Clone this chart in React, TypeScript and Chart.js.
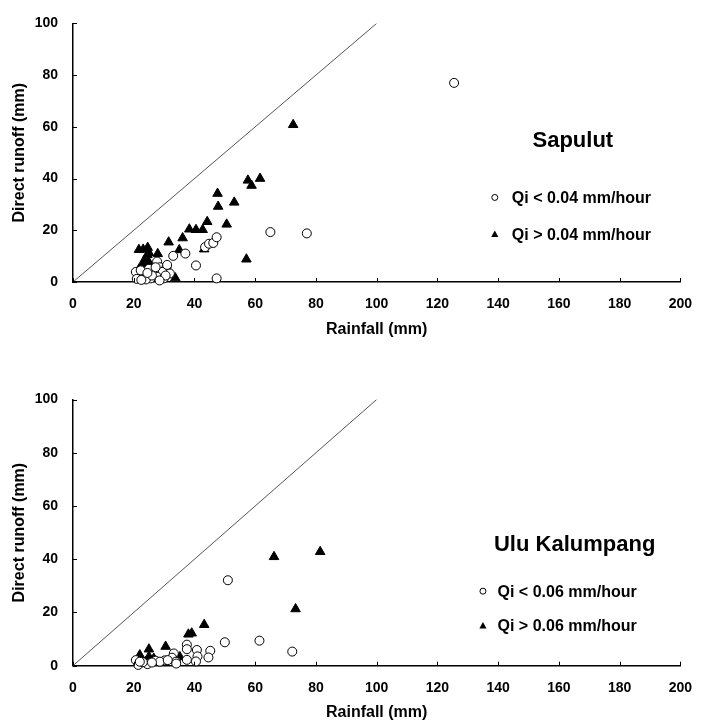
import React, { useEffect, useRef } from "react";
import { Chart, registerables } from "chart.js";

Chart.register(...registerables);

const FONT = "'Liberation Sans', Arial, Helvetica, sans-serif";

// Axis settings
const xMin = 0;
const xMax = 200;
const xStep = 20;
const yMin = 0;
const yMax = 100;
const yStep = 20;

const xTitle = "Rainfall (mm)";
const yTitle = "Direct runoff (mm)";

// 1:1 line
const equalityLine: [number, number][] = [
  [0, 0],
  [100, 100],
];

// ---- Sapulut ----
const sapulutTitle = "Sapulut";
const sapulutLowLabel = "Qi < 0.04 mm/hour";
const sapulutHighLabel = "Qi > 0.04 mm/hour";

const sapulutLow: [number, number][] = [
  [125.5, 77], [65, 19.3], [77, 18.8], [33, 10.1], [37, 11], [40.5, 6.4],
  [43.5, 13.5], [44.8, 14.8], [46.2, 15.1], [47.3, 17.3], [47.3, 1.4],
  [27.7, 7.9], [28.6, 5.7], [30.8, 5.7], [31.9, 3.3], [29.4, 3.9], [26.7, 3.9],
  [25, 5.1], [23.4, 2.6], [21.8, 2], [20.7, 3.9], [25.6, 1.4], [27.7, 2],
  [22.3, 4.5], [29.9, 1.4], [31, 6.6], [27.2, 5.7], [24, 1], [21, 1.2],
  [22.5, 0.8], [26, 2.5], [30.5, 2.5], [24.5, 3.5], [28.5, 0.6],
];

const sapulutHigh: [number, number][] = [
  [72.5, 60.8], [57.6, 39.3], [61.6, 40], [58.8, 37.3], [53.1, 30.8],
  [50.6, 22.3], [57.1, 8.8], [47.6, 34.2], [47.8, 29.2], [44.2, 23.3],
  [38.3, 20.4], [40.5, 20.2], [42.7, 20.2], [36.1, 17], [31.5, 15.4],
  [35, 12.4], [43.2, 12.7], [33.7, 1.5], [21.7, 12.5], [24.6, 13.3],
  [23.1, 12.6], [27.9, 10.9], [25, 11.3], [24, 9], [22.9, 6.4], [21.8, 5.1],
  [25, 7.6], [23.5, 8.5], [24.5, 10.5],
];

// ---- Ulu Kalumpang ----
const uluTitle = "Ulu Kalumpang";
const uluLowLabel = "Qi < 0.06 mm/hour";
const uluHighLabel = "Qi > 0.06 mm/hour";

const uluLow: [number, number][] = [
  [51, 32.1], [50, 8.8], [61.4, 9.4], [72.2, 5.3], [37.5, 7.9], [37.5, 6.2],
  [40.8, 5.9], [45.2, 5.6], [44.6, 3.1], [41, 3.5], [40.5, 1.6], [37.5, 2.2],
  [33.2, 4.6], [32.6, 3], [30.2, 2], [27.2, 1.9], [20.7, 2.1], [21.5, 0.3],
  [24.5, 0.6], [28.6, 1.5], [33.9, 1.5], [23, 1.3], [31.2, 2.1], [34, 0.8],
  [26, 1.2], [22, 1.5],
];

const uluHigh: [number, number][] = [
  [66.2, 40.9], [81.4, 42.8], [73.3, 21.3], [43.2, 15.4], [38, 11.8],
  [39.1, 12.2], [30.5, 7.2], [25, 6.2], [22, 4], [35.2, 3.3], [26.6, 2.7],
  [23.4, 0.9], [25, 3.4], [24, 1.5],
];

type Pt = [number, number];

interface PanelSpec {
  title: string;
  low: Pt[];
  high: Pt[];
  lowLabel: string;
  highLabel: string;
  topPad: number;
  xAxisHeight: number;
  xTitleBottom: number;
  titleAt: Pt;
  markerX: number;
  textX: number;
  lowY: number;
  highY: number;
}

const annotatePlugin = {
  id: "annotate",
  afterDatasetsDraw(chart: any, _args: any, opts: any) {
    const { ctx, chartArea } = chart;
    const xs = chart.scales.x;
    const ys = chart.scales.y;
    ctx.save();

    // inward tick marks
    ctx.strokeStyle = "#000";
    ctx.lineWidth = 1;
    xs.ticks.forEach((t: any) => {
      const p = Math.round(xs.getPixelForValue(t.value)) + 0.5;
      ctx.beginPath();
      ctx.moveTo(p, chartArea.bottom);
      ctx.lineTo(p, chartArea.bottom - 4);
      ctx.stroke();
    });
    ys.ticks.forEach((t: any) => {
      const p = Math.round(ys.getPixelForValue(t.value)) + 0.5;
      ctx.beginPath();
      ctx.moveTo(chartArea.left, p);
      ctx.lineTo(chartArea.left + 4, p);
      ctx.stroke();
    });

    // station title
    ctx.fillStyle = "#000";
    ctx.font = `bold 22px ${FONT}`;
    ctx.textAlign = "center";
    ctx.textBaseline = "middle";
    ctx.fillText(
      opts.title,
      xs.getPixelForValue(opts.titleAt[0]),
      ys.getPixelForValue(opts.titleAt[1])
    );

    // legend
    const mx = xs.getPixelForValue(opts.markerX);
    const tx = xs.getPixelForValue(opts.textX);
    const ly = ys.getPixelForValue(opts.lowY);
    const hy = ys.getPixelForValue(opts.highY);

    ctx.beginPath();
    ctx.arc(mx, ly, 3, 0, Math.PI * 2);
    ctx.fillStyle = "#fff";
    ctx.fill();
    ctx.lineWidth = 1;
    ctx.strokeStyle = "#000";
    ctx.stroke();

    ctx.beginPath();
    ctx.moveTo(mx, hy - 4);
    ctx.lineTo(mx + 3.6, hy + 2.5);
    ctx.lineTo(mx - 3.6, hy + 2.5);
    ctx.closePath();
    ctx.fillStyle = "#000";
    ctx.fill();

    ctx.font = `bold 16px ${FONT}`;
    ctx.textAlign = "left";
    ctx.textBaseline = "middle";
    ctx.fillText(opts.lowLabel, tx, ly + 1);
    ctx.fillText(opts.highLabel, tx, hy + 1);

    ctx.restore();
  },
};

function buildConfig(p: PanelSpec): any {
  const tickFont = { family: FONT, size: 14, weight: "bold" as const };
  const titleFont = { family: FONT, size: 16, weight: "bold" as const };
  return {
    type: "scatter",
    data: {
      datasets: [
        {
          label: p.lowLabel,
          data: p.low.map(([x, y]) => ({ x, y })),
          pointStyle: "circle",
          pointRadius: 4.5,
          pointBackgroundColor: "#fff",
          pointBorderColor: "#000",
          pointBorderWidth: 1,
          clip: false,
        },
        {
          label: p.highLabel,
          data: p.high.map(([x, y]) => ({ x, y })),
          pointStyle: "triangle",
          pointRadius: 5.5,
          pointBackgroundColor: "#000",
          pointBorderColor: "#000",
          pointBorderWidth: 1,
          clip: false,
        },
        {
          label: "1:1",
          data: equalityLine.map(([x, y]) => ({ x, y })),
          showLine: true,
          pointRadius: 0,
          borderColor: "#555",
          borderWidth: 1,
          fill: false,
        },
      ],
    },
    options: {
      animation: false,
      responsive: false,
      devicePixelRatio: 1,
      layout: { padding: { top: p.topPad, right: 18, left: 0, bottom: 0 } },
      plugins: {
        legend: { display: false },
        tooltip: { enabled: false },
        annotate: {
          title: p.title,
          titleAt: p.titleAt,
          markerX: p.markerX,
          textX: p.textX,
          lowY: p.lowY,
          highY: p.highY,
          lowLabel: p.lowLabel,
          highLabel: p.highLabel,
        },
      },
      scales: {
        x: {
          type: "linear",
          min: xMin,
          max: xMax,
          ticks: {
            stepSize: xStep,
            padding: 14,
            color: "#000",
            font: tickFont,
            maxRotation: 0,
            autoSkip: false,
          },
          grid: { display: false, drawTicks: false },
          border: { display: true, color: "#000", width: 1.5 },
          title: {
            display: true,
            text: xTitle,
            color: "#000",
            font: titleFont,
            padding: { top: 0, bottom: p.xTitleBottom },
          },
          afterFit: (s: any) => {
            s.height = p.xAxisHeight;
          },
        },
        y: {
          type: "linear",
          min: yMin,
          max: yMax,
          ticks: {
            stepSize: yStep,
            padding: 15,
            color: "#000",
            font: tickFont,
          },
          grid: { display: false, drawTicks: false },
          border: { display: true, color: "#000", width: 1.5 },
          title: {
            display: true,
            text: yTitle,
            color: "#000",
            font: titleFont,
            padding: { top: 10, bottom: 0 },
          },
          afterFit: (s: any) => {
            s.width = 73;
          },
        },
      },
    },
    plugins: [annotatePlugin],
  };
}

const sapulutSpec: PanelSpec = {
  title: sapulutTitle,
  low: sapulutLow,
  high: sapulutHigh,
  lowLabel: sapulutLowLabel,
  highLabel: sapulutHighLabel,
  topPad: 16,
  xAxisHeight: 81,
  xTitleBottom: 24,
  titleAt: [164.6, 54.4],
  markerX: 138.9,
  textX: 144.5,
  lowY: 32.7,
  highY: 18.4,
};

const uluSpec: PanelSpec = {
  title: uluTitle,
  low: uluLow,
  high: uluHigh,
  lowLabel: uluLowLabel,
  highLabel: uluHighLabel,
  topPad: 36.5,
  xAxisHeight: 60.3,
  xTitleBottom: 4,
  titleAt: [165.2, 45.3],
  markerX: 135,
  textX: 139.8,
  lowY: 28,
  highY: 14.9,
};

function Panel({ spec, top }: { spec: PanelSpec; top: number }) {
  const ref = useRef<HTMLCanvasElement | null>(null);
  useEffect(() => {
    if (!ref.current) return;
    const chart = new Chart(ref.current, buildConfig(spec));
    return () => chart.destroy();
  }, [spec]);
  return (
    <canvas
      ref={ref}
      width={706}
      height={363}
      style={{ position: "absolute", left: 0, top, width: 706, height: 363, display: "block" }}
    />
  );
}

export default function App() {
  return (
    <div
      style={{
        position: "absolute",
        left: 0,
        top: 0,
        width: 706,
        height: 726,
        background: "#fff",
        overflow: "hidden",
      }}
    >
      <Panel spec={sapulutSpec} top={0} />
      <Panel spec={uluSpec} top={363} />
    </div>
  );
}
